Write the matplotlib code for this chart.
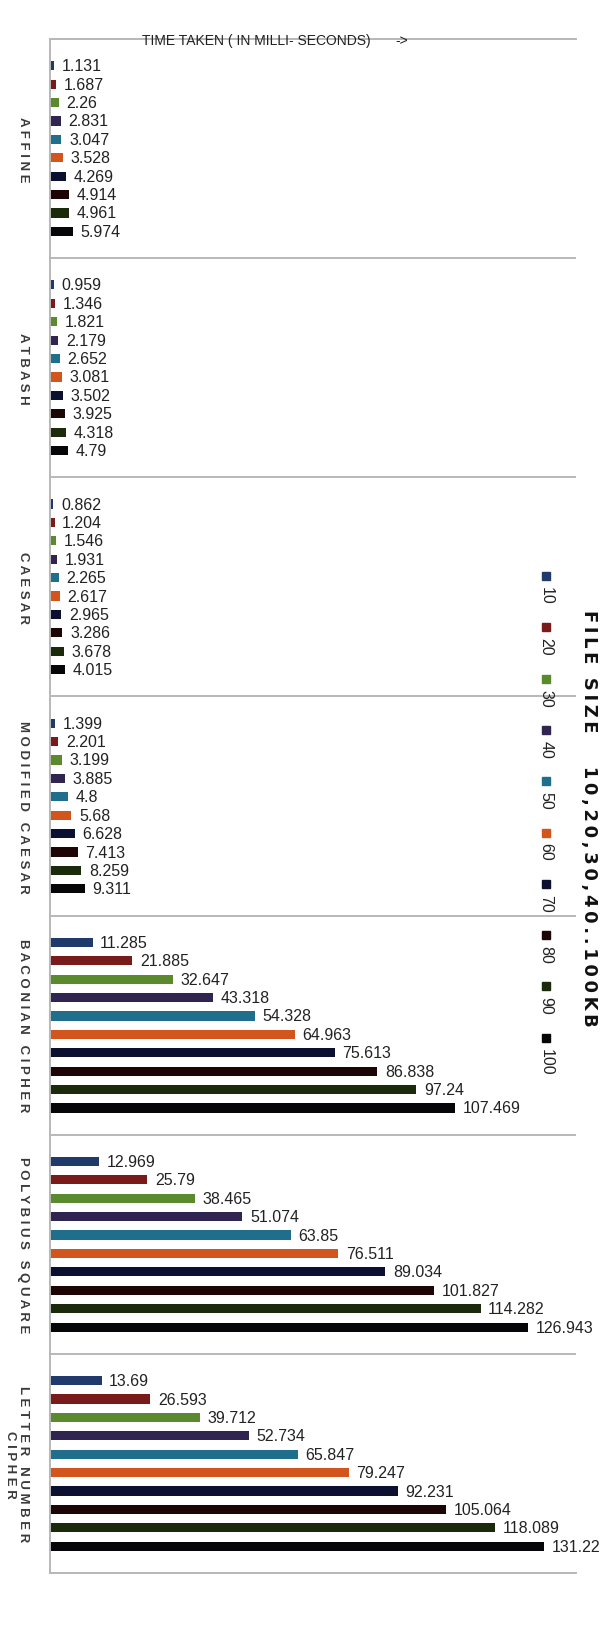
import matplotlib
matplotlib.use("Agg")
import matplotlib.pyplot as plt
from matplotlib.patches import Rectangle
import numpy as np

# cipher names, top to bottom
ciphers = ["AFFINE", "ATBASH", "CAESAR", "MODIFIED CAESAR",
           "BACONIAN CIPHER", "POLYBIUS SQUARE", "LETTER NUMBER\nCIPHER"]
# file sizes in KB (legend)
sizes = ["10", "20", "30", "40", "50", "60", "70", "80", "90", "100"]
colors = ["#1F3A6B", "#7A1B1B", "#5B8A2E", "#2F2550", "#1F6E8C",
          "#D2551E", "#0B1030", "#1E0505", "#1C2A0C", "#060608"]

# time taken (ms), one list per cipher, values for 10..100 KB
affine = [1.131, 1.687, 2.26, 2.831, 3.047, 3.528, 4.269, 4.914, 4.961, 5.974]
atbash = [0.959, 1.346, 1.821, 2.179, 2.652, 3.081, 3.502, 3.925, 4.318, 4.79]
caesar = [0.862, 1.204, 1.546, 1.931, 2.265, 2.617, 2.965, 3.286, 3.678, 4.015]
mod_caesar = [1.399, 2.201, 3.199, 3.885, 4.8, 5.68, 6.628, 7.413, 8.259, 9.311]
baconian = [11.285, 21.885, 32.647, 43.318, 54.328, 64.963, 75.613, 86.838, 97.24, 107.469]
polybius = [12.969, 25.79, 38.465, 51.074, 63.85, 76.511, 89.034, 101.827, 114.282, 126.943]
letter_num = [13.69, 26.593, 39.712, 52.734, 65.847, 79.247, 92.231, 105.064, 118.089, 131.22]

data = np.array([affine, atbash, caesar, mod_caesar, baconian, polybius, letter_num])

W, H = 611, 1649
fig = plt.figure(figsize=(W / 100, H / 100), dpi=100)
ax = fig.add_axes([50 / W, 1 - 1574 / H, (576 - 50) / W, (1574 - 40) / H])

num_font = ["Liberation Sans Narrow", "Liberation Sans", "DejaVu Sans"]
pitch = 0.084
bh = 0.042
ypos = np.arange(len(ciphers))

for j in range(len(sizes)):
    y = ypos + (j - 4.5) * pitch
    bars = ax.barh(y, data[:, j], height=bh, color=colors[j], label=sizes[j])
    for b, v in zip(bars, data[:, j]):
        ax.annotate(f"{v:g}", (v, b.get_y() + b.get_height() / 2),
                    xytext=(5.5, 0), textcoords="offset points",
                    va="center", ha="left", fontsize=11.5, color="#222222",
                    family=num_font)

ax.set_xlim(0, 139.6)
ax.set_ylim(len(ciphers) - 0.5, -0.5)
ax.set_xticks([])

# letter-spaced category names
labels = ["\n".join(" ".join(line) for line in c.split("\n")) for c in ciphers]
ax.set_yticks(ypos)
ax.set_yticklabels(labels, rotation=-90, va="center", ha="right",
                   multialignment="center", fontsize=9.5, fontweight="bold",
                   family=["Liberation Sans", "DejaVu Sans"], color="#3a3a3a",
                   linespacing=1.15)
ax.tick_params(axis="y", length=0, pad=15)

ax.set_yticks(np.arange(-0.5, len(ciphers), 1), minor=True)
ax.tick_params(axis="y", which="minor", length=0)
ax.grid(axis="y", which="minor", color="#b8b8b8", lw=1.4)
ax.grid(axis="y", which="major", visible=False)
for s in ["top", "bottom", "left"]:
    ax.spines[s].set_color("#b8b8b8")
    ax.spines[s].set_linewidth(1.4)
ax.spines["right"].set_visible(False)

fig.text(256 / W, 1 - 41 / H, "TIME TAKEN ( IN MILLI- SECONDS)", ha="center",
         va="center", fontsize=10, color="#222222", family=num_font)
fig.text(402 / W, 1 - 41 / H, "->", ha="center", va="center", fontsize=10,
         color="#222222", family=num_font)

# rotated legend on the right
for j, s in enumerate(sizes):
    yc = 577 + 51.3 * j
    fig.add_artist(Rectangle(((546 - 4) / W, 1 - (yc + 4) / H), 8 / W, 8 / H,
                             color=colors[j], transform=fig.transFigure))
    fig.text(546 / W, 1 - (yc + 10) / H, s, rotation=-90, ha="center", va="top",
             fontsize=11.5, color="#222222", family=["Liberation Sans", "DejaVu Sans"])

legend_title = "FILE SIZE   10,20,30,40..100KB"
fig.text(589 / W, 1 - 818 / H, "\u2009".join(legend_title), rotation=-90,
         ha="center", va="center", fontsize=13, fontweight="bold", color="#111111",
         family="DejaVu Sans")

fig.savefig("out.png", dpi=100, facecolor="white")
